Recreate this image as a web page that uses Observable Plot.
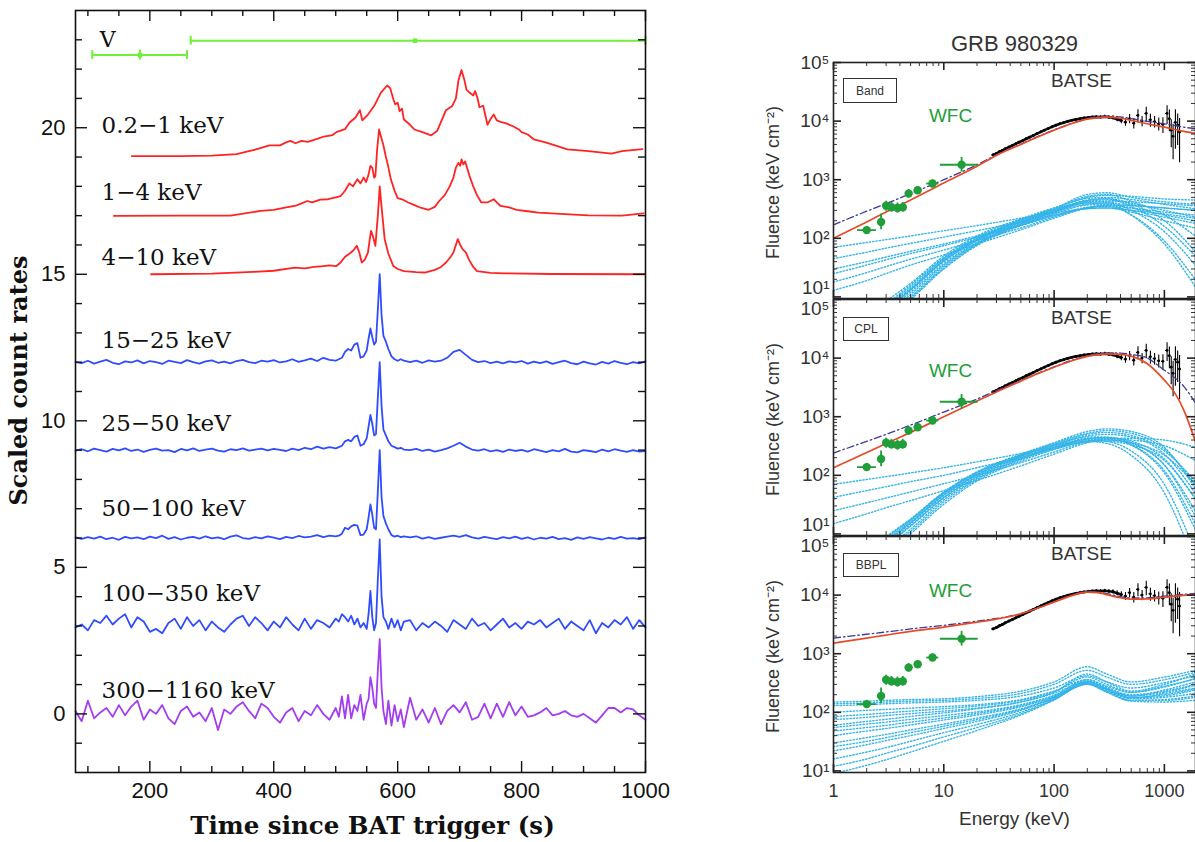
<!DOCTYPE html>
<html><head><meta charset="utf-8">
<script src="https://cdn.jsdelivr.net/npm/d3@7"></script>
<script src="https://cdn.jsdelivr.net/npm/@observablehq/plot@0.6"></script>
<style>
body{margin:0;background:#fff;}
#root{position:relative;width:1195px;height:842px;overflow:hidden;background:#fff;}
.holder{position:absolute;}
.holder svg{overflow:visible;}
.box{position:absolute;border:1.5px solid #333;font:12px "Liberation Sans",sans-serif;color:#333;display:flex;align-items:center;justify-content:center;box-sizing:border-box;}
</style></head><body><div id="root"></div>
<script>
// ---------------- LEFT PANEL DATA (time in s, scaled count rate) ----------------
const tNoise = [80,90,100,110,120,130,140,150,160,170,180,190,200,210,220,230,240,250,260,270,280,290,300,310,320,330,340,350,360,370,380,390,400,410,420,430,440,450,460,470,480,490,500,
 505,510,515,520,525,530,535,540,545,550,553,556,559,562,565,568,571,574,577,581,585,590,595,600,605,610,
 620,630,640,650,660,670,680,690,700,710,720,730,740,750,760,770,780,790,800,810,820,830,840,850,860,870,880,890,900,910,920,930,940,950,960,970,980,990,1000];
const rate15_25 = [12.00,11.97,12.05,11.95,12.02,12.08,11.98,11.93,12.03,11.99,12.06,11.96,12.04,12.00,11.94,12.05,12.01,11.97,12.07,12.00,11.95,12.03,12.06,11.98,12.02,11.96,12.04,12.08,12.00,11.97,12.05,12.02,12.07,11.99,12.03,12.10,12.01,12.06,12.12,12.04,12.15,12.08,12.05,
 12.10,12.15,12.35,12.45,12.40,12.60,12.65,12.15,12.20,12.40,12.80,13.15,12.85,12.60,12.70,13.80,15.00,13.60,12.90,12.70,12.45,12.20,12.10,12.05,12.10,12.05,
 12.00,12.05,11.98,12.06,12.02,12.05,12.15,12.35,12.42,12.25,12.08,12.00,12.04,11.97,12.02,11.96,12.03,11.99,12.04,11.95,12.02,11.97,12.03,11.94,12.00,12.05,11.97,11.93,12.02,11.96,11.92,12.01,11.95,12.04,11.98,11.93,12.00,11.96,12.03];
const rate25_50 = [8.98,9.03,8.96,9.05,9.00,8.95,9.04,8.99,9.06,8.97,9.02,8.94,9.01,9.05,8.98,9.00,8.93,9.04,8.99,9.06,8.97,9.02,9.05,8.98,8.95,9.03,9.00,9.06,8.98,9.02,9.05,8.99,9.04,9.01,8.97,9.05,9.00,9.08,9.03,9.12,9.05,9.10,9.06,
 9.10,9.15,9.30,9.35,9.30,9.45,9.50,9.15,9.20,9.40,9.80,10.20,9.90,9.50,9.55,10.80,12.00,10.50,9.70,9.50,9.30,9.15,9.10,9.05,9.08,9.02,
 9.00,9.04,8.97,9.02,8.95,9.00,9.06,9.15,9.25,9.12,9.02,8.98,9.03,8.96,9.00,8.94,9.02,8.97,9.01,8.95,9.03,8.98,8.93,9.00,8.96,9.04,8.95,8.92,9.00,8.97,8.93,9.02,8.96,9.03,8.98,8.94,9.00,8.95,8.97];
const rate50_100 = [6.02,5.97,6.03,5.98,6.05,5.96,6.01,5.94,6.04,5.99,6.02,5.96,6.05,6.00,6.08,5.97,6.03,5.95,6.01,6.04,5.98,6.06,5.99,6.02,5.96,6.05,6.09,6.00,5.97,6.03,5.99,6.06,6.01,5.96,6.04,6.00,6.07,6.02,6.05,6.10,6.03,6.08,6.06,
 6.08,6.15,6.35,6.30,6.40,6.45,6.42,6.10,6.12,6.30,6.70,7.15,6.80,6.35,6.30,7.60,9.00,7.40,6.75,6.50,6.30,6.10,6.05,6.08,6.03,6.06,
 6.02,6.06,5.98,6.03,5.97,6.01,6.05,6.08,6.04,6.10,6.02,5.98,6.04,6.00,5.96,6.03,5.99,6.05,5.97,6.02,5.95,6.01,5.98,6.04,5.96,6.00,5.94,6.02,5.97,6.03,5.99,5.95,6.01,5.97,6.04,5.98,6.00,5.96,6.02];
const rate100_350 = [2.95,3.05,2.85,3.20,3.10,3.35,3.05,3.25,3.40,2.95,3.30,3.15,2.80,2.90,2.75,3.10,3.25,2.90,3.30,3.00,3.20,2.85,3.15,2.95,2.80,3.05,3.25,3.35,3.00,3.30,3.10,2.85,3.15,2.95,3.30,3.05,2.85,3.25,2.90,3.20,3.10,2.95,3.25,
 3.15,3.40,3.30,3.15,3.35,3.05,3.25,2.95,3.10,2.90,3.40,4.20,3.30,2.85,3.10,4.60,5.95,4.00,3.30,3.15,2.90,3.25,2.95,3.20,2.85,3.15,
 3.20,2.85,3.10,2.95,3.15,3.00,2.80,3.20,3.05,2.90,3.25,3.00,3.10,2.85,3.05,3.25,2.95,3.10,2.90,3.15,3.05,3.20,2.95,3.10,3.25,2.90,3.15,3.00,2.85,3.20,2.75,3.10,2.95,3.20,3.05,3.30,2.90,3.20,2.95];
const rate300_1160 = [0.10,-0.25,0.45,-0.15,0.05,0.20,-0.10,0.30,-0.05,0.25,0.45,-0.20,0.15,0.00,0.30,-0.15,-0.35,0.10,0.25,-0.10,0.05,-0.25,0.20,-0.55,0.15,0.00,0.25,0.40,0.10,-0.15,0.35,0.20,-0.10,-0.30,0.05,0.20,-0.25,0.10,-0.05,0.30,0.00,-0.20,0.20,
 -0.10,0.60,-0.15,0.65,-0.15,0.30,0.10,0.65,-0.20,0.35,0.50,1.25,0.90,0.35,0.20,1.50,2.55,0.90,0.10,-0.35,0.45,-0.40,0.30,-0.25,0.15,-0.45,
 0.55,-0.20,0.15,-0.30,0.20,-0.35,0.10,0.30,0.05,0.40,-0.20,-0.10,0.35,-0.15,0.35,-0.10,0.40,-0.05,0.25,-0.10,-0.05,0.05,0.20,-0.05,0.00,0.10,-0.05,-0.10,0.00,-0.15,-0.30,-0.05,0.20,0.20,0.05,0.20,0.15,-0.05,-0.20];

const rate02_1 = [[171,19.03],[250,19.03],[300,19.05],[340,19.1],[370,19.25],[393,19.4],[410,19.4],[420,19.5],[427,19.55],[435,19.47],[445,19.55],[455,19.52],[470,19.62],[481,19.7],[495,19.75],[501,19.85],[515,19.95],[522,20.17],[532,20.35],[539,20.6],[543,20.25],[552,20.45],[562,20.74],[573,21.2],[583,21.44],[588,21.35],[593,20.97],[596,20.8],[600,20.85],[603,20.57],[607,20.65],[610,20.28],[620,20.1],[627,19.94],[640,19.85],[654,19.74],[664,19.9],[672,20.3],[678,20.6],[688,20.74],[694,21.0],[698,21.6],[703,21.97],[708,21.6],[711,21.3],[716,21.2],[722,21.1],[725,21.25],[729,21.0],[732,20.7],[738,20.75],[745,20.1],[750,20.3],[755,20.45],[760,20.25],[766,20.2],[775,20.15],[786,20.05],[795,19.95],[800,19.85],[810,19.77],[820,19.6],[840,19.49],[874,19.26],[908,19.2],[945,19.12],[962,19.2],[995,19.27]];
const rate1_4 = [[142,16.99],[250,17.0],[330,17.0],[379,17.16],[400,17.2],[420,17.28],[434,17.33],[445,17.42],[454,17.5],[462,17.45],[475,17.55],[488,17.56],[500,17.62],[508,17.67],[515,17.85],[522,18.1],[528,18.0],[535,18.24],[540,18.1],[545,18.3],[549,18.15],[553,18.4],[556,18.7],[559,18.64],[562,18.3],[564,18.35],[567,19.3],[570,19.94],[573,19.7],[577,19.4],[581,19.0],[584,18.75],[589,18.24],[595,17.85],[600,17.6],[608,17.55],[617,17.45],[628,17.35],[637,17.27],[650,17.2],[660,17.3],[667,17.5],[676,17.7],[684,18.0],[690,18.3],[694,18.64],[698,18.8],[701,18.7],[703,18.92],[706,18.75],[709,18.85],[711,18.7],[716,18.35],[722,18.0],[728,17.7],[735,17.45],[745,17.45],[755,17.56],[760,17.45],[766,17.33],[780,17.28],[792,17.2],[810,17.15],[827,17.1],[870,17.05],[908,17.01],[962,17.0],[997,17.08]];
const rate4_10 = [[202,15.0],[300,15.02],[366,15.08],[400,15.12],[434,15.23],[450,15.2],[465,15.25],[481,15.28],[490,15.3],[501,15.28],[508,15.4],[515,15.6],[522,15.7],[528,15.8],[534,15.97],[538,15.75],[542,15.4],[547,15.5],[552,15.74],[555,16.2],[557,16.48],[560,16.3],[564,15.97],[568,17.0],[571,18.0],[574,17.3],[579,16.2],[585,15.7],[593,15.28],[600,15.18],[610,15.11],[630,15.07],[644,15.06],[660,15.15],[670,15.25],[678,15.4],[685,15.58],[690,15.74],[697,16.2],[701,16.0],[705,15.85],[710,15.75],[715,15.5],[722,15.25],[728,15.11],[750,15.05],[772,15.03],[850,15.01],[998,15.0]];

const bandNames = ["0.2−1 keV","1−4 keV","4−10 keV","15−25 keV","25−50 keV","50−100 keV","100−350 keV","300−1160 keV"];
const bandLabelLevel = [20.08,17.8,15.57,12.73,9.89,6.99,4.09,0.8];
// optical V-band points
const vTime = [184, 628], vTimeLo = [107, 266], vTimeHi = [260, 1000], vRate = [22.48, 22.97], vRateErr = [0.17, 0.04];

const xTicksLeft = [200,400,600,800,1000];
const xTickLabelsLeft = ["200","400","600","800","1000"];
const xMinorLeft = [100,150,250,300,350,450,500,550,650,700,750,850,900,950];
const yTicksLeft = [0,5,10,15,20];
const yMinorLeft = [-1,1,2,3,4,6,7,8,9,11,12,13,14,16,17,18,19,21,22,23];

// ---------------- RIGHT PANEL DATA (energy keV, fluence keV cm^-2) ----------------
const modelE = [1,2,3,5,10,20,30,50,70,100,150,200,250,300,400,500,700,1000,1250,1500,1900];
const bandRed  = [100,190,280,450,880,1700,2600,4000,5300,7000,9300,10800,11500,11700,11200,10300,9000,7900,7200,6700,6200];
const bandBlue = [170,290,390,580,1000,1800,2650,4050,5400,7100,9400,11000,11900,12100,11800,11000,9900,9000,8400,7900,7400];
const cplRed   = [135,245,350,540,1000,1850,2650,4050,5350,7000,9200,10700,11500,11800,11600,10800,8000,4200,2500,1300,390];
const cplBlue  = [240,380,500,720,1200,2000,2800,4150,5450,7100,9400,11000,11900,12300,12200,11600,10000,6200,4600,3300,1750];
const bbplRed  = [1520,1850,2080,2400,2850,3450,3900,4800,5900,7600,10000,11200,11000,10200,9000,8500,8600,9200,9600,9900,10300];
const bbplBlue = [1850,2150,2350,2650,3050,3600,4000,4850,5950,7700,10200,11500,11400,10600,9400,8900,9000,9600,10000,10300,10700];

const batseE = [28,30,32,34,36,39,42,45,48,52,56,60,65,70,76,82,89,96,104,113,122,133,145,158,172,187,204,222,242,264,288,314,342,373,407,444,484,528,576,628,685,747,815,889,970,1058,1110,1154,1200,1259,1320,1373];
const batseF = [2650,2800,3000,3150,3350,3600,3850,4100,4350,4650,5000,5300,5700,6100,6550,7000,7500,8000,8500,9000,9400,9900,10300,10700,11000,11300,11500,11700,11800,11700,11900,11600,11400,10800,10200,9600,11000,9200,12500,10000,13500,10500,9800,9000,8800,13500,11000,7000,5500,9500,8500,6500];
const batseRelErr = [0.04,0.04,0.04,0.04,0.04,0.04,0.04,0.04,0.04,0.04,0.03,0.03,0.03,0.03,0.03,0.03,0.03,0.03,0.03,0.03,0.03,0.03,0.03,0.03,0.03,0.03,0.03,0.04,0.04,0.05,0.06,0.07,0.08,0.1,0.12,0.15,0.18,0.2,0.25,0.2,0.28,0.25,0.22,0.25,0.3,0.35,0.4,0.5,0.6,0.65,0.55,0.7];

const wfcE   = [2.0,2.7,3.0,3.35,3.8,4.25,4.8,5.8,7.9,14.5];
const wfcElo = [1.65,2.6,2.85,3.2,3.6,4.05,4.55,5.4,7.0,9.3];
const wfcEhi = [2.45,2.8,3.15,3.5,4.0,4.45,5.1,6.3,9.0,20.5];
const wfcF   = [138,190,360,340,330,340,580,660,860,1800];
const wfcFlo = [120,140,290,280,270,280,490,570,760,1350];
const wfcFhi = [160,260,430,410,400,410,680,760,980,2400];

const cyanE = [1,2,3,5,10,20,50,100,200,300,500,1000,1900];
const bandCyan = [
 [70,85,95,110,135,165,220,270,320,330,300,260,220],
 [45,58,68,82,105,135,190,250,320,330,280,200,150],
 [25,35,43,55,75,105,165,240,330,350,300,230,180],
 [18,26,33,44,63,92,150,230,330,360,330,280,250],
 [13,19,25,35,52,80,140,220,330,370,360,330,300],
 [30,40,48,60,80,110,170,245,340,360,250,90,20],
 [1,3.5,6,13,40,90,190,300,450,480,400,300,230],
 [1.5,4,7,15,45,100,200,320,560,600,500,420,380],
 [0.8,2.5,4.5,10,33,80,175,280,400,400,250,80,15],
 [1.2,3,5.5,12,37,85,185,290,430,450,380,200,60],
 [2,5,8.5,17,50,110,215,330,480,500,460,380,320],
 [0.6,2,4,9,30,75,165,260,370,380,330,250,200],
 [1,3.2,6,13,42,95,195,300,420,420,300,130,35],
 [1.4,3.8,6.8,14,44,97,205,310,500,540,520,470,450],
 [0.9,2.8,5,11,35,82,180,285,410,430,420,390,360],
 [1.6,4.3,7.5,16,47,104,208,325,520,560,430,250,110],
 [1.1,3.3,6.2,13.5,41,92,192,298,440,470,350,160,50],
 [0.7,2.3,4.3,9.5,31,78,170,270,385,400,370,330,300]];
const cplCyan = [
 [70,85,95,110,135,170,235,300,370,380,330,180,40],
 [42,55,64,78,100,135,200,280,390,420,400,320,180],
 [25,34,41,52,72,100,165,250,370,400,360,220,70],
 [15,22,28,37,55,82,145,230,360,420,430,400,300],
 [1,3.5,6.5,14,42,95,200,300,380,350,220,50,3],
 [1.5,4.2,7.5,16,48,105,215,330,450,450,330,110,12],
 [0.8,2.8,5,11,35,85,185,290,420,440,380,190,40],
 [2,5,9,18,52,115,230,360,560,620,560,300,60],
 [1.2,3.8,7,15,45,100,210,320,400,380,260,70,5],
 [0.6,2.2,4.2,10,32,80,175,275,380,400,350,150,20],
 [1.7,4.5,8,17,50,110,220,340,500,540,480,260,80],
 [1.1,3.4,6.3,13.5,41,93,195,305,430,440,360,150,25],
 [1.9,4.8,8.6,17.5,51,112,225,350,520,580,520,280,70],
 [0.9,3,5.5,12,38,88,190,295,410,420,330,120,15],
 [1.3,4,7.2,15.5,46,102,212,325,470,500,450,230,50]];
const bbplCyan = [
 [150,155,160,165,170,185,230,330,600,450,330,400,520],
 [130,135,140,145,150,160,190,260,420,330,260,320,420],
 [100,108,112,118,125,135,165,230,360,280,220,280,370],
 [75,82,88,95,105,118,150,210,340,260,200,230,300],
 [55,63,68,76,88,102,135,195,330,250,180,200,250],
 [40,48,53,61,74,90,125,185,320,240,170,180,210],
 [30,37,42,50,63,80,115,180,310,230,160,160,180],
 [22,28,33,40,53,70,108,175,300,220,155,150,160],
 [16,21,25,32,45,62,100,168,300,225,160,165,190],
 [12,16,20,26,38,55,94,165,310,235,175,210,260],
 [9,12.5,15.5,21,32,49,90,162,320,250,190,240,330],
 [60,70,76,85,98,115,150,220,450,330,230,300,450],
 [140,145,150,155,160,172,210,300,520,400,300,360,480],
 [85,92,98,105,115,128,160,225,400,300,220,270,380],
 [48,55,60,68,80,96,130,190,360,270,190,220,290],
 [26,32,37,45,58,75,112,178,340,250,175,190,240]];

const xTicksRight = [1,10,100,1000];
const xTickLabelsRight = ["1","10","100","1000"];
const yTicksRight = [10,100,1000,10000,100000];
const yTickLabelsRight = ["10¹","10²","10³","10⁴","10⁵"];

// ---------------- COLOURS ----------------
const RED = "#ff2323", BLUE = "#2f4dff", PURPLE = "#a23df2", LGREEN = "#72ee3c";
const FIT_RED = "#e84a27", FIT_BLUE = "#3a3a9a", WFC_GREEN = "#1f9e3a", CYAN = "#34b4e8";

const root = document.getElementById("root");
function place(node, left, top) {
  const d = document.createElement("div");
  d.className = "holder"; d.style.left = left + "px"; d.style.top = top + "px";
  d.appendChild(node); root.appendChild(d);
}

// ---------------- LEFT PLOT ----------------
(function(){
  const W = 660, H = 842, mL = 75, mR = 15, mT = 10, mB = 70;
  const pw = W - mL - mR, ph = H - mT - mB;
  const noise = [
    {vals: rate15_25, color: BLUE}, {vals: rate25_50, color: BLUE},
    {vals: rate50_100, color: BLUE}, {vals: rate100_350, color: BLUE},
    {vals: rate300_1160, color: PURPLE}];
  const noiseRows = noise.flatMap((c, k) => tNoise.map((t, i) => ({t, v: c.vals[i], k, color: c.color})));
  const redRows = [rate02_1, rate1_4, rate4_10].flatMap((c, k) => c.map(([t, v]) => ({t, v, k})));
  const labels = bandNames.map((text, i) => ({text, v: bandLabelLevel[i], t: 122}));
  const vRows = vTime.map((t, i) => ({t, v: vRate[i], t1: vTimeLo[i], t2: vTimeHi[i], e: vRateErr[i]}));
  const capRows = vRows.flatMap(d => [{t: d.t1, v: d.v}, {t: d.t2, v: d.v}]);
  const serif = "'DejaVu Serif', serif";
  const p = Plot.plot({
    width: W, height: H, marginLeft: mL, marginRight: mR, marginTop: mT, marginBottom: mB,
    x: {domain: [80, 1000], axis: null}, y: {domain: [-2, 24], axis: null},
    style: {background: "transparent", overflow: "visible", fontFamily: "'Liberation Sans', sans-serif", color: "#111"},
    marks: [
      Plot.line(redRows, {x: "t", y: "v", z: "k", stroke: RED, strokeWidth: 1.8}),
      Plot.line(noiseRows, {x: "t", y: "v", z: "k", stroke: "color", strokeWidth: 1.8}),
      Plot.ruleY(vRows, {y: "v", x1: "t1", x2: "t2", stroke: LGREEN, strokeWidth: 2}),
      Plot.ruleX(capRows, {x: "t", y1: d => d.v - 0.15, y2: d => d.v + 0.15, stroke: LGREEN, strokeWidth: 2}),
      Plot.ruleX(vRows, {x: "t", y1: d => d.v - d.e, y2: d => d.v + d.e, stroke: LGREEN, strokeWidth: 2}),
      Plot.dot(vRows, {x: "t", y: "v", symbol: "square", r: 2.6, fill: LGREEN}),
      Plot.text(["V"], {x: 132, y: 23.0, fontFamily: serif, fontSize: 22, fill: "#111"}),
      Plot.text(labels, {x: "t", y: "v", text: "text", textAnchor: "start", fontFamily: serif, fontSize: 23, fill: "#111"}),
      Plot.frame({stroke: "#111", strokeWidth: 1.6}),
      Plot.tickY(yMinorLeft, {y: d => d, insetRight: pw - 7, strokeWidth: 1.4}),
      Plot.tickY(yMinorLeft, {y: d => d, insetLeft: pw - 7, strokeWidth: 1.4}),
      Plot.tickY(yTicksLeft, {y: d => d, insetRight: pw - 12, strokeWidth: 1.4}),
      Plot.tickY(yTicksLeft, {y: d => d, insetLeft: pw - 12, strokeWidth: 1.4}),
      Plot.tickX(xMinorLeft, {x: d => d, insetTop: ph - 6, strokeWidth: 1.4}),
      Plot.tickX(xMinorLeft, {x: d => d, insetBottom: ph - 6, strokeWidth: 1.4}),
      Plot.tickX(xTicksLeft, {x: d => d, insetTop: ph - 11, strokeWidth: 1.4}),
      Plot.tickX(xTicksLeft, {x: d => d, insetBottom: ph - 11, strokeWidth: 1.4}),
      Plot.axisY(yTicksLeft, {tickSize: 0, tickPadding: 10, fontSize: 22, label: null}),
      Plot.axisX(xTicksLeft, {tickSize: 0, tickPadding: 10, fontSize: 22, label: null, tickFormat: d => xTickLabelsLeft[xTicksLeft.indexOf(d)]}),
      Plot.text(["Scaled count rates"], {frameAnchor: "left", rotate: -90, textAnchor: "middle", lineAnchor: "middle", dx: -56, dy: -11, fontFamily: serif, fontWeight: "bold", fontSize: 24, fill: "#111"}),
      Plot.text(["Time since BAT trigger (s)"], {frameAnchor: "bottom", textAnchor: "middle", lineAnchor: "middle", dx: 12, dy: 54, fontFamily: serif, fontWeight: "bold", fontSize: 24.5, fill: "#111"})
    ]
  });
  place(p, 0, 0);
})();

// ---------------- RIGHT PLOTS ----------------
const batseRows = batseE.map((E, i) => ({E, F: batseF[i], lo: batseF[i] * (1 - batseRelErr[i]), hi: batseF[i] * (1 + batseRelErr[i]), x1: E / 1.03, x2: E * 1.03}));
const wfcRows = wfcE.map((E, i) => ({E, F: wfcF[i], x1: wfcElo[i], x2: wfcEhi[i], y1: wfcFlo[i], y2: wfcFhi[i]}));
const xMinorRight = [2,3,4,5,6,7,8,9,20,30,40,50,60,70,80,90,200,300,400,500,600,700,800,900];
const yMinorRight = [20,30,40,50,60,70,80,90,200,300,400,500,600,700,800,900,2000,3000,4000,5000,6000,7000,8000,9000,20000,30000,40000,50000,60000,70000,80000,90000];

function spectrum({cyan, red, blue, box, mT, mB, batseDy, wfcDy, title, xaxis, left, frameTop, topLabelDy, bottomLabelDy}) {
  const W = 435, mL = 73, mR = 0, ph = 236, pw = W - mL - mR;
  const cyanRows = cyan.flatMap((c, k) => c.map((F, j) => ({E: cyanE[j], F, k})));
  const redRows = modelE.map((E, i) => ({E, F: red[i]}));
  const blueRows = modelE.map((E, i) => ({E, F: blue[i]}));
  const sans = "'Liberation Sans', sans-serif";
  const yLab = yTicksRight.map((y, i) => ({y, text: yTickLabelsRight[i]}));
  const labOpts = {frameAnchor: "left", y: "y", text: "text", textAnchor: "end", lineAnchor: "middle", dx: -4, fontSize: 19, fill: "#333", fontFamily: sans};
  const marks = [
    Plot.line(cyanRows, {x: "E", y: "F", z: "k", stroke: CYAN, strokeWidth: 1.4, strokeDasharray: "1.3,2", curve: "monotone-x", clip: true}),
    Plot.ruleX(batseRows, {x: "E", y1: "lo", y2: "hi", stroke: "#000", strokeWidth: 1.1, clip: true}),
    Plot.ruleY(batseRows, {y: "F", x1: "x1", x2: "x2", stroke: "#000", strokeWidth: 1.1, clip: true}),
    Plot.line(batseRows.filter(d => d.E <= 420), {x: "E", y: "F", stroke: "#111", strokeWidth: 2.6}),
    Plot.dot(batseRows, {x: "E", y: "F", r: 1.4, fill: "#000"}),
    Plot.line(blueRows, {x: "E", y: "F", stroke: FIT_BLUE, strokeWidth: 1.3, strokeDasharray: "7,3,1.5,3", curve: "monotone-x", clip: true}),
    Plot.line(redRows, {x: "E", y: "F", stroke: FIT_RED, strokeWidth: 1.7, curve: "monotone-x", clip: true}),
    Plot.ruleY(wfcRows, {y: "F", x1: "x1", x2: "x2", stroke: WFC_GREEN, strokeWidth: 1.8}),
    Plot.ruleX(wfcRows, {x: "E", y1: "y1", y2: "y2", stroke: WFC_GREEN, strokeWidth: 1.8}),
    Plot.dot(wfcRows, {x: "E", y: "F", r: 4.2, fill: WFC_GREEN}),
    Plot.frame({stroke: "#222", strokeWidth: 1.6}),
    Plot.tickY(yMinorRight, {y: d => d, insetRight: pw - 4, stroke: "#333"}),
    Plot.tickY(yMinorRight, {y: d => d, insetLeft: pw - 4, stroke: "#333"}),
    Plot.tickY(yTicksRight, {y: d => d, insetRight: pw - 8, stroke: "#222", strokeWidth: 1.6}),
    Plot.tickY(yTicksRight, {y: d => d, insetLeft: pw - 8, stroke: "#222", strokeWidth: 1.6}),
    Plot.tickX(xMinorRight, {x: d => d, insetTop: ph - 4, stroke: "#333"}),
    Plot.tickX(xMinorRight, {x: d => d, insetBottom: ph - 4, stroke: "#333"}),
    Plot.tickX(xTicksRight, {x: d => d, insetTop: ph - 8, stroke: "#222", strokeWidth: 1.6}),
    Plot.tickX(xTicksRight, {x: d => d, insetBottom: ph - 8, stroke: "#222", strokeWidth: 1.6}),
    Plot.text(yLab.slice(1, 4), labOpts),
    Plot.text(yLab.slice(0, 1), {...labOpts, dy: bottomLabelDy}),
    Plot.text(yLab.slice(4), {...labOpts, dy: topLabelDy}),
    Plot.text(["BATSE"], {frameAnchor: "top-left", textAnchor: "middle", lineAnchor: "middle", dx: 248, dy: batseDy, fontSize: 19, fill: "#333", fontFamily: sans}),
    Plot.text(["WFC"], {frameAnchor: "top-left", textAnchor: "middle", lineAnchor: "middle", dx: 117, dy: wfcDy, fontSize: 19, fill: WFC_GREEN, fontFamily: sans}),
    Plot.text(["Fluence (keV cm⁻²)"], {frameAnchor: "left", rotate: -90, textAnchor: "middle", lineAnchor: "middle", dx: -60, dy: 2, fontSize: 18, fill: "#333", fontFamily: sans})
  ];
  if (title) marks.push(Plot.text([title], {frameAnchor: "top", textAnchor: "middle", lineAnchor: "middle", dy: -19, fontSize: 22, fill: "#333", fontFamily: sans}));
  if (xaxis) {
    marks.push(Plot.axisX(xTicksRight, {tickSize: 0, tickPadding: 12, fontSize: 18, label: null, tickFormat: d => xTickLabelsRight[xTicksRight.indexOf(d)]}));
    marks.push(Plot.text(["Energy (keV)"], {frameAnchor: "bottom", textAnchor: "middle", lineAnchor: "middle", dy: 46, fontSize: 19, fill: "#333", fontFamily: sans}));
  }
  const p = Plot.plot({
    width: W, height: mT + ph + mB, marginLeft: mL, marginRight: mR, marginTop: mT, marginBottom: mB,
    x: {type: "log", domain: [1, 1915], axis: null},
    y: {type: "log", domain: [9.4, 100000], axis: null},
    style: {background: "transparent", overflow: "visible", fontFamily: sans, color: "#333"},
    marks
  });
  place(p, left, frameTop - mT);
  const b = document.createElement("div");
  b.className = "box"; b.textContent = box.text;
  Object.assign(b.style, {left: (left + mL + 10) + "px", top: (frameTop + box.top) + "px", width: box.w + "px", height: box.h + "px"});
  root.appendChild(b);
}

spectrum({cyan: bandCyan, red: bandRed, blue: bandBlue, box: {text: "Band", top: 16, w: 54, h: 25}, mT: 40, mB: 12, batseDy: 18, wfcDy: 53, title: "GRB 980329", xaxis: false, left: 760, frameTop: 62, topLabelDy: 0, bottomLabelDy: -9});
spectrum({cyan: cplCyan, red: cplRed, blue: cplBlue, box: {text: "CPL", top: 18, w: 46, h: 24}, mT: 12, mB: 12, batseDy: 18, wfcDy: 71, title: null, xaxis: false, left: 760, frameTop: 299, topLabelDy: 9, bottomLabelDy: -9});
spectrum({cyan: bbplCyan, red: bbplRed, blue: bbplBlue, box: {text: "BBPL", top: 17, w: 56, h: 24}, mT: 12, mB: 70, batseDy: 17, wfcDy: 54, title: null, xaxis: true, left: 760, frameTop: 536, topLabelDy: 9, bottomLabelDy: 0});
</script></body></html>
